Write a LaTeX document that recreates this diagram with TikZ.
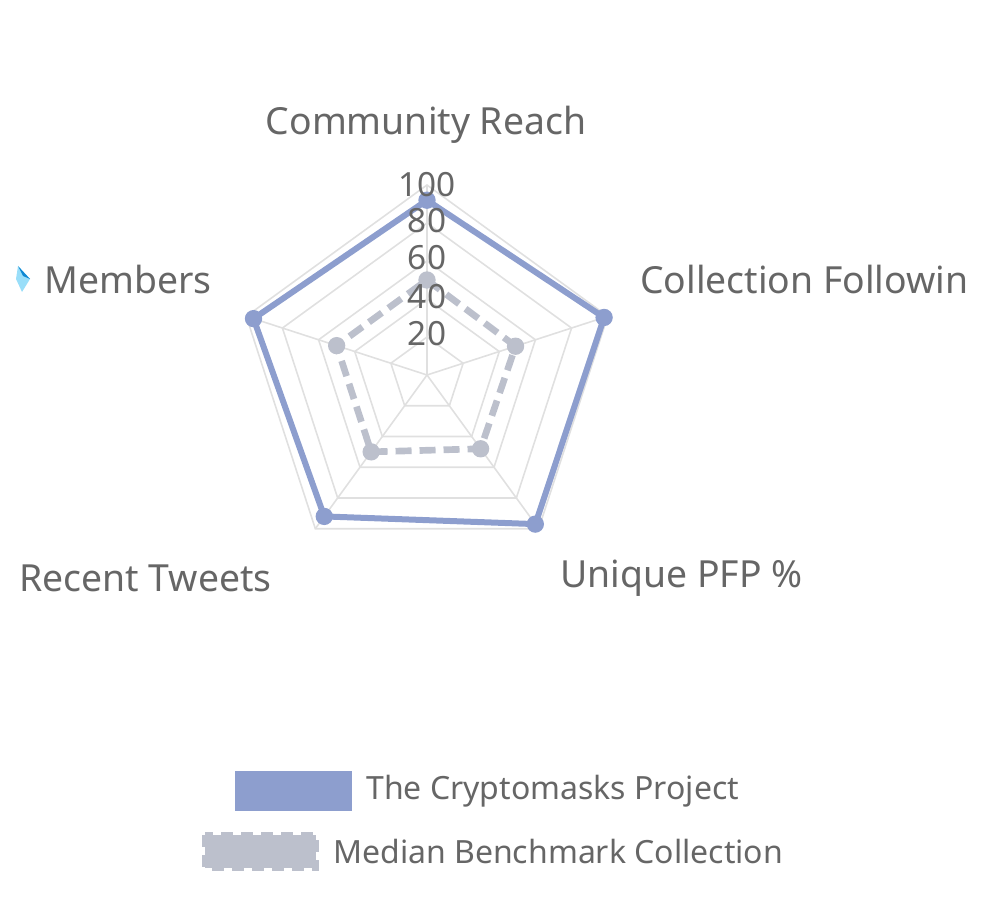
\documentclass[tikz,border=0pt]{standalone}
\usepackage{fontspec}
\setmainfont{Noto Sans}
\usetikzlibrary{calc}
\definecolor{pc}{RGB}{141,158,206}
\definecolor{mc}{RGB}{188,192,204}
\begin{document}
\begin{tikzpicture}[x=0.75pt,y=-0.75pt,
  lbl/.style={text=black!60,font=\fontsize{28}{30}\selectfont,inner sep=0pt},
  leg/.style={text=black!60,font=\fontsize{24}{26}\selectfont,inner sep=0pt},
  tick/.style={text=black!60,font=\fontsize{25}{26}\selectfont,inner sep=0pt},
  grid/.style={draw=black!12,line width=1.2pt},
  med/.style={draw=mc,line width=5pt,dash pattern=on 12pt off 6pt},
  dot/.style={circle,inner sep=0pt,minimum size=13pt}]
\useasboundingbox (0,0) rectangle (984,923);
\coordinate (c) at (427,375);
\def\R{190}
\foreach \k in {1,...,5}{
  \pgfmathsetmacro\r{\R*\k/5}
  \draw[grid] ($(c)+(-90:\r)$) \foreach \a in {162,234,306,18}{ -- ($(c)+(-\a:\r)$)} -- cycle;
}
\foreach \a in {90,162,234,306,18} \draw[grid] (c) -- ($(c)+(-\a:\R)$);
\foreach \n/\a/\v in {p1/90/0.92,p2/18/0.98,p3/306/0.97,p4/234/0.92,p5/162/0.96}
  \coordinate (\n) at ($(c)+(-\a:{\v*\R})$);
\foreach \n/\a/\v in {m1/90/0.50,m2/18/0.49,m3/306/0.48,m4/234/0.50,m5/162/0.50}
  \coordinate (\n) at ($(c)+(-\a:{\v*\R})$);
\draw[med] (m1)--(m2)--(m3)--(m4)--(m5)--cycle;
\foreach \n in {m1,m2,m3,m4,m5} \node[dot,fill=mc] at (\n) {};
\draw[draw=pc,line width=4.5pt,line join=round] (p1)--(p2)--(p3)--(p4)--(p5)--cycle;
\foreach \n in {p1,p2,p3,p4,p5} \node[dot,fill=pc] at (\n) {};
\foreach \v/\y in {100/185,80/221,60/258,40/297,20/334}
  \node[tick] (t\v) at (427,\y) {\v};
\node[lbl] (l1) at (426,125) {Community Reach};
\node[lbl,anchor=west] (l2) at (640,280) {Collection Followin};
\node[lbl,anchor=west] (l3) at (560,578) {Unique PFP \%};
\node[lbl,anchor=west] (l4) at (19,578) {Recent Tweets};
\node[lbl,anchor=west] (l5) at (44,280) {Members};
\fill[cyan!40] (18,266) -- (30,279) -- (22,292) -- (16,279) -- cycle;
\fill[cyan!70!blue] (18,266) -- (30,279) -- (23,276) -- cycle;
\fill[pc] (235,771) rectangle (352,811);
\node[leg,anchor=west] (g1) at (366,791) {The Cryptomasks Project};
\fill[mc] (205,835) rectangle (316,868);
\draw[mc,line width=4pt,dash pattern=on 9pt off 6pt] (205,835) rectangle (316,868);
\node[leg,anchor=west] (g2) at (333,851) {Median Benchmark Collection};
\end{tikzpicture}
\end{document}
